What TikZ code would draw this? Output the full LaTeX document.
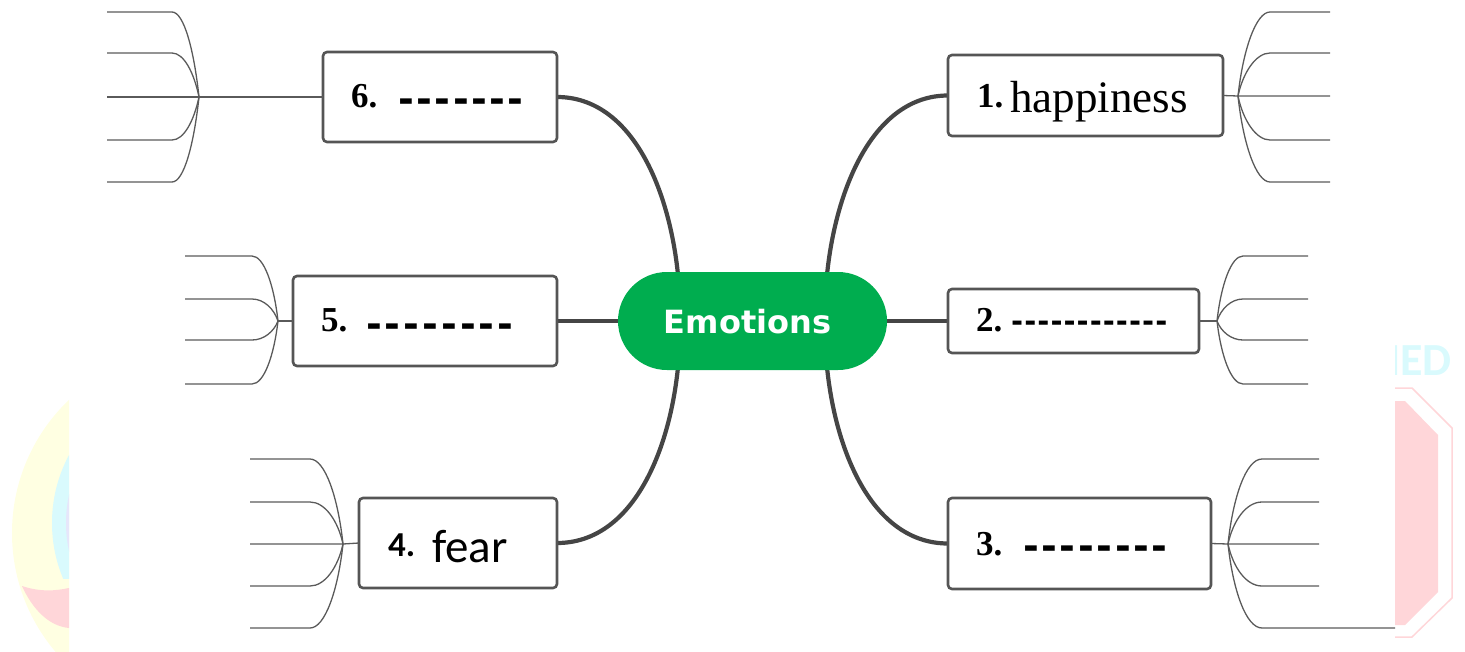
\documentclass[tikz,border=0pt]{standalone}
\usepackage{fontspec}
\setmainfont{Liberation Serif}
\newfontfamily\calfnt{Carlito}
\newfontfamily\djfnt{DejaVu Sans}
\newcommand\blankline[2]{\foreach \i in {1,...,#1}{\makebox[#2][l]{-}}}
\definecolor{boxgray}{HTML}{555555}
\definecolor{linkgray}{HTML}{454545}
\definecolor{fangray}{HTML}{5A5A5A}
\definecolor{emogreen}{HTML}{00AD4F}
\definecolor{wmyellow}{HTML}{FFFFE2}
\definecolor{wmcyan}{HTML}{D9FAFD}
\definecolor{wmviolet}{HTML}{E6E6FA}
\definecolor{wmpink}{HTML}{FFD6D9}
\pgfdeclarelayer{bg}
\pgfsetlayers{bg,main}
\begin{document}
\begin{tikzpicture}[x=1pt,y=-1pt,
  box/.style={draw=boxgray, line width=2.6pt, rounded corners=4pt, fill=white, inner sep=0pt, outer sep=0pt, anchor=north west},
  pill/.style={fill=emogreen, rounded corners=49pt, minimum width=269pt, minimum height=98pt, inner sep=0pt, outer sep=0pt,
     text=white, font=\djfnt\bfseries\fontsize{32}{36}\selectfont, text height=24pt, text depth=0pt},
  link/.style={draw=linkgray, line width=4.2pt},
  fan/.style={draw=fangray, line width=1.3pt},
  lbl/.style={anchor=base west, inner sep=0pt},
  num/.style={lbl, font=\bfseries\fontsize{35}{38}\selectfont},
  blank/.style={lbl, font=\djfnt\bfseries\fontsize{38}{42}\selectfont},
  smallblank/.style={lbl, font=\djfnt\bfseries\fontsize{29}{32}\selectfont}]
\useasboundingbox (0,0) rectangle (1465,651);
% watermark remnants
\begin{scope}
  \clip (0,380) rectangle (69,651);
  \fill[wmyellow] (196,533) circle (184pt);
  \begin{scope}
    \clip (0,380) rectangle (69,578);
    \fill[wmcyan] (196,523) circle (144pt);
    \fill[wmviolet] (196,523) circle (130pt);
  \end{scope}
  \fill[wmpink] (22,586) .. controls (40,592) and (55,591) .. (69,588) -- (69,628) .. controls (48,626) and (32,608) .. cycle;
\end{scope}
\begin{scope}
  \clip (1395,330) rectangle (1465,651);
  \node[anchor=base east, inner sep=0pt, text=wmcyan, font=\calfnt\bfseries\fontsize{46}{48}\selectfont] (wmtext) at (1452,375) {IED};
\end{scope}
\draw[wmpink, line width=1.5pt] (1395,388) -- (1412,388) -- (1452,428) -- (1452,598) -- (1412,637) -- (1395,637);
\fill[wmpink] (1395,401) -- (1405,401) -- (1438,435) -- (1438,592) -- (1405,625) -- (1395,625) -- cycle;
% central topic
\node[pill] (emo) at (752.5,321) {Emotions\hspace*{10pt}};
% boxes
\node[box, minimum width=234pt, minimum height=90pt] (b6) at (323,52) {};
\node[box, minimum width=275pt, minimum height=81pt] (b1) at (948,55) {};
\node[box, minimum width=264pt, minimum height=90pt] (b5) at (293,276) {};
\node[box, minimum width=251pt, minimum height=64pt] (b2) at (948,289) {};
\node[box, minimum width=198pt, minimum height=90pt] (b4) at (359,498) {};
\node[box, minimum width=263pt, minimum height=91pt] (b3) at (948,498) {};
% labels
\node[num] (n6) at (351,107) {6.};
\node[blank] (d6) at (398,112) {\blankline{7}{18.3pt}};
\node[num] (n1) at (977,107) {1.};
\node[lbl, font=\fontsize{45}{48}\selectfont] (t1) at (1010,112) {happiness};
\node[num] (n5) at (321,331) {5.};
\node[blank] (d5) at (366,337) {\blankline{8}{18.8pt}};
\node[num] (n2) at (976,331) {2.};
\node[smallblank] (d2) at (1011,331) {\blankline{12}{13.1pt}};
\node[num] (n3) at (976,555) {3.};
\node[blank] (d3) at (1023,559) {\blankline{8}{18.4pt}};
\node[lbl, font=\calfnt\bfseries\fontsize{35}{36}\selectfont] (n4) at (388,556) {4.};
\node[lbl, font=\calfnt\fontsize{47}{50}\selectfont] (t4) at (432,562) {fear};
% main links
\begin{pgfonlayer}{bg}
  \draw[link] (b6.east) .. controls +(75,0) and +(-8,-90) .. ([xshift=-74pt,yshift=-8pt]emo.north);
  \draw[link] (b1.west) .. controls +(-75,0) and +(8,-90) .. ([xshift=74pt,yshift=-8pt]emo.north);
  \draw[link] (b4.east) .. controls +(75,0) and +(-8,90) .. ([xshift=-74pt,yshift=8pt]emo.south);
  \draw[link] (b3.west) .. controls +(-75,0) and +(8,90) .. ([xshift=74pt,yshift=8pt]emo.south);
  \draw[link] (b5.east) -- (emo.west);
  \draw[link] (b2.west) -- (emo.east);
\end{pgfonlayer}
% fans
\coordinate (j6) at (199,97);
\draw[fan] (b6.west) -- (j6) -- (107,97);
\foreach \y in {12,53,140,182} {
  \pgfmathsetmacro\cy{97+0.55*(\y-97)}
  \draw[fan] (j6) .. controls (194,\cy) and (184,\y) .. (172,\y) -- (107,\y);}
\coordinate (j1) at (1238,96);
\draw[fan] (b1.east) -- (j1) -- (1330,96);
\foreach \y in {12,53,140,182} {
  \pgfmathsetmacro\cy{96+0.55*(\y-96)}
  \draw[fan] (j1) .. controls (1243,\cy) and (1256,\y) .. (1270,\y) -- (1330,\y);}
\coordinate (j5) at (278,321);
\draw[fan] (b5.west) -- (j5);
\foreach \y in {256,299,340,384} {
  \pgfmathsetmacro\cy{321+0.55*(\y-321)}
  \draw[fan] (j5) .. controls (274,\cy) and (264,\y) .. (252,\y) -- (185,\y);}
\coordinate (j2) at (1217,321);
\draw[fan] (b2.east) -- (j2);
\foreach \y in {256,299,340,384} {
  \pgfmathsetmacro\cy{321+0.55*(\y-321)}
  \draw[fan] (j2) .. controls (1221,\cy) and (1231,\y) .. (1243,\y) -- (1308,\y);}
\coordinate (j4) at (343,544);
\draw[fan] (b4.west) -- (j4) -- (250,544);
\foreach \y in {459,502,586,628} {
  \pgfmathsetmacro\cy{544+0.55*(\y-544)}
  \draw[fan] (j4) .. controls (338,\cy) and (325,\y) .. (310,\y) -- (250,\y);}
\coordinate (j3) at (1228,544);
\draw[fan] (b3.east) -- (j3) -- (1319,544);
\foreach \y/\ex in {459/1319,502/1319,586/1319,628/1395} {
  \pgfmathsetmacro\cy{544+0.55*(\y-544)}
  \draw[fan] (j3) .. controls (1233,\cy) and (1246,\y) .. (1262,\y) -- (\ex,\y);}
\end{tikzpicture}
\end{document}
